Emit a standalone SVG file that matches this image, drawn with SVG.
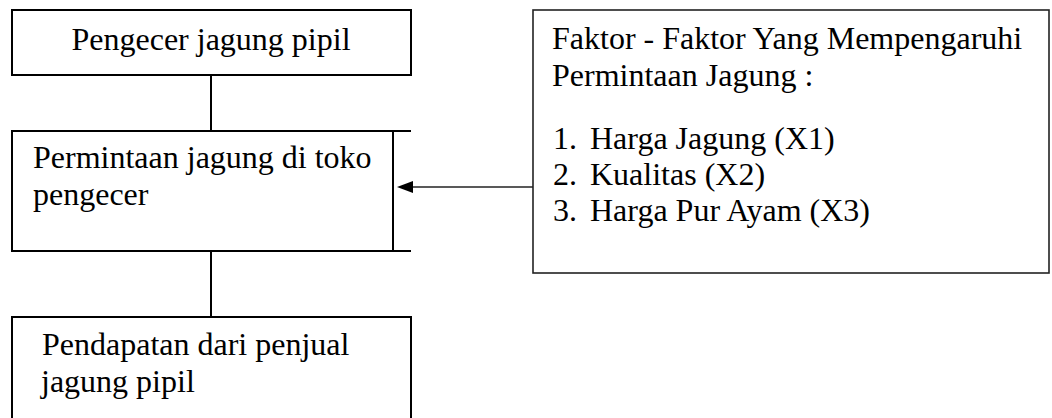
<svg xmlns="http://www.w3.org/2000/svg" width="1052" height="418" viewBox="0 0 1052 418">
<style>
.box{fill:none;stroke:#000;stroke-width:2}
.c{fill:none;stroke:#000;stroke-width:2}
.g{fill:none;stroke:#222;stroke-width:1.6}
</style>
<rect width="1052" height="418" fill="#fff"/>
<g id="connectors">
<line class="c" x1="211" y1="75" x2="211" y2="131"/>
<line class="c" x1="211" y1="251" x2="211" y2="317"/>
<line class="g" x1="533" y1="187" x2="412" y2="187"/>
<path d="M413,181 L397,187 L413,193 Z" fill="#000"/>
</g>
<g id="node-pengecer">
<rect class="box" x="12" y="10" width="399" height="65"/>
<text font-family="Liberation Serif" font-size="32" x="211" y="50" text-anchor="middle">Pengecer jagung pipil</text>
</g>
<g id="node-permintaan">
<path class="box" d="M411,131 H12 V251 H411 M393,131 V251"/>
<text font-family="Liberation Serif" font-size="32" x="33" y="168">Permintaan jagung di toko</text>
<text font-family="Liberation Serif" font-size="32" x="33" y="205">pengecer</text>
</g>
<g id="node-pendapatan">
<path class="box" d="M12,420 V317 H411 V420"/>
<text font-family="Liberation Serif" font-size="32" x="42" y="355">Pendapatan dari penjual</text>
<text font-family="Liberation Serif" font-size="32" x="41" y="392">jagung pipil</text>
</g>
<g id="node-faktor">
<rect class="g" x="533" y="10" width="516" height="263"/>
<text font-family="Liberation Serif" font-size="32" x="552" y="49">Faktor - Faktor Yang Mempengaruhi</text>
<text font-family="Liberation Serif" font-size="32" x="552" y="86">Permintaan Jagung :</text>
<text font-family="Liberation Serif" font-size="32" x="553" y="149">1.</text>
<text font-family="Liberation Serif" font-size="32" x="590" y="149">Harga Jagung (X1)</text>
<text font-family="Liberation Serif" font-size="32" x="553" y="185">2.</text>
<text font-family="Liberation Serif" font-size="32" x="590" y="185">Kualitas (X2)</text>
<text font-family="Liberation Serif" font-size="32" x="553" y="221">3.</text>
<text font-family="Liberation Serif" font-size="32" x="590" y="221">Harga Pur Ayam (X3)</text>
</g>
</svg>
